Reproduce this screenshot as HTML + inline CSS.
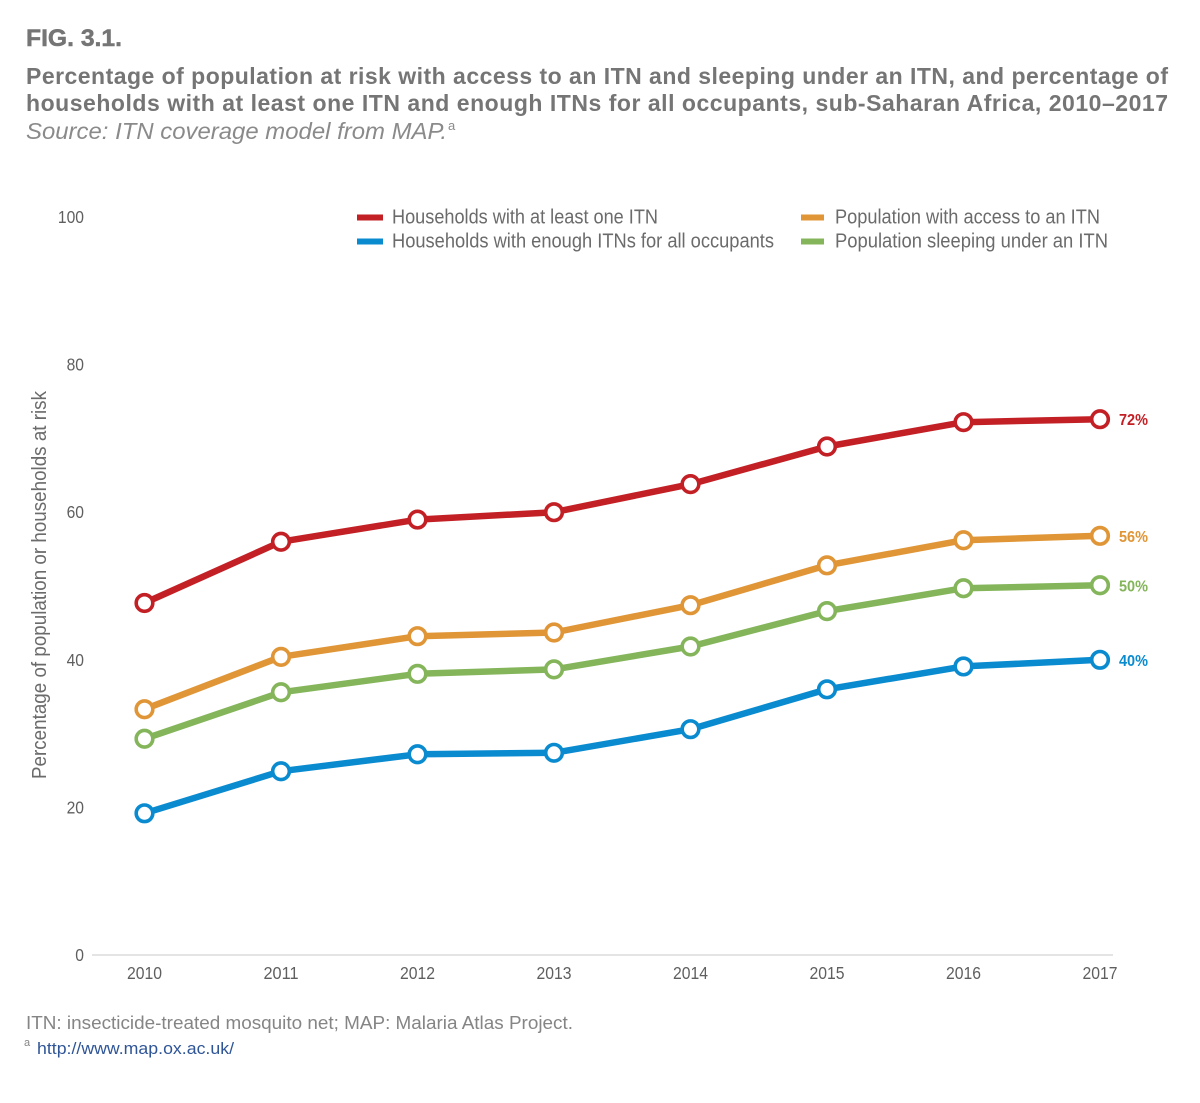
<!DOCTYPE html>
<html lang="en">
<head>
<meta charset="utf-8">
<title>Fig. 3.1 ITN coverage</title>
<style>
html,body{margin:0;padding:0;background:#fff;}
body{width:1200px;height:1103px;overflow:hidden;}
svg{display:block;}
text{font-family:"Liberation Sans",sans-serif;}
.tick{font-size:17.5px;fill:#5f5f5f;}
.leg{font-size:20px;fill:#6b6b6b;}
</style>
</head>
<body>
<svg id="chart" width="1200" height="1103" viewBox="0 0 1200 1103" xmlns="http://www.w3.org/2000/svg">
  <text x="26" y="46" font-size="24" font-weight="700" fill="#757575" stroke="#757575" stroke-width="0.5" textLength="96" lengthAdjust="spacingAndGlyphs">FIG. 3.1.</text>
  <text x="26" y="84" font-size="23" font-weight="700" fill="#757575" textLength="1142" lengthAdjust="spacing">Percentage of population at risk with access to an ITN and sleeping under an ITN, and percentage of</text>
  <text x="26" y="111" font-size="23" font-weight="700" fill="#757575" textLength="1142" lengthAdjust="spacing">households with at least one ITN and enough ITNs for all occupants, sub-Saharan Africa, 2010–2017</text>
  <text x="26" y="139" font-size="23" font-style="italic" fill="#8a8a8a" textLength="421" lengthAdjust="spacingAndGlyphs">Source: ITN coverage model from MAP.</text>
  <text x="448" y="130" font-size="13" fill="#8a8a8a">a</text>

  <g>
    <rect x="357" y="214.5" width="26" height="6" fill="#c32026"/>
    <text class="leg" x="392" y="223.5" textLength="266" lengthAdjust="spacingAndGlyphs">Households with at least one ITN</text>
    <rect x="357" y="238.5" width="26" height="6" fill="#0a8bd0"/>
    <text class="leg" x="392" y="247.5" textLength="382" lengthAdjust="spacingAndGlyphs">Households with enough ITNs for all occupants</text>
    <rect x="801" y="214.5" width="23" height="6" fill="#e09637"/>
    <text class="leg" x="835" y="223.5" textLength="265" lengthAdjust="spacingAndGlyphs">Population with access to an ITN</text>
    <rect x="801" y="238.5" width="23" height="6" fill="#84b55a"/>
    <text class="leg" x="835" y="247.5" textLength="273" lengthAdjust="spacingAndGlyphs">Population sleeping under an ITN</text>
  </g>

  <text transform="translate(46,585) rotate(-90)" text-anchor="middle" font-size="20" fill="#6b6b6b" textLength="388" lengthAdjust="spacingAndGlyphs">Percentage of population or households at risk</text>

  <g id="axes"></g>
  <g id="series"></g>

  <text x="26" y="1029" font-size="18" fill="#858585" textLength="547" lengthAdjust="spacingAndGlyphs">ITN: insecticide-treated mosquito net; MAP: Malaria Atlas Project.</text>
  <text x="24" y="1046" font-size="11" fill="#858585">a</text>
  <text x="37" y="1054" font-size="17" fill="#2f5597" textLength="197" lengthAdjust="spacingAndGlyphs">http://www.map.ox.ac.uk/</text>
</svg>
<script>
const years = [2010, 2011, 2012, 2013, 2014, 2015, 2016, 2017];
const yTicks = [0, 20, 40, 60, 80, 100];
const householdsOneItn = [47.7, 56.0, 59.0, 60.0, 63.8, 68.9, 72.2, 72.6];
const populationAccess = [33.3, 40.4, 43.2, 43.7, 47.4, 52.8, 56.2, 56.8];
const populationSleeping = [29.3, 35.6, 38.1, 38.7, 41.8, 46.6, 49.7, 50.1];
const householdsEnough = [19.2, 24.9, 27.2, 27.4, 30.6, 36.0, 39.1, 40.0];
const endLabels = ['72%', '56%', '50%', '40%'];

const NS = 'http://www.w3.org/2000/svg';
function xScale(i) { return 144.5 + i * (1100 - 144.5) / (years.length - 1); }
function yScale(v) { return 955 - v * 7.38; }
function make(tag, attrs, parent) {
  const el = document.createElementNS(NS, tag);
  for (const k in attrs) el.setAttribute(k, attrs[k]);
  parent.appendChild(el);
  return el;
}

const axes = document.getElementById('axes');
const baseline = make('line', { x1: 92, x2: 1113, y1: yScale(0), y2: yScale(0), stroke: '#dcdcdc', 'stroke-width': 1.5 }, axes);



yTicks.forEach(function (t) {
  const label = String(t);
  const el = make('text', { x: 84, y: yScale(t) + 6, 'text-anchor': 'end', class: 'tick', textLength: label.length * 8.7, lengthAdjust: 'spacingAndGlyphs' }, axes);
  el.textContent = label;
  
  
});
years.forEach(function (yr, i) {
  const el = make('text', { x: xScale(i), y: 979, 'text-anchor': 'middle', class: 'tick', textLength: 35, lengthAdjust: 'spacingAndGlyphs' }, axes);
  el.textContent = yr;
  
  
});

const seriesList = [
  { key: 'households-one-itn', values: householdsOneItn, color: '#c32026', label: endLabels[0] },
  { key: 'population-access', values: populationAccess, color: '#e09637', label: endLabels[1] },
  { key: 'population-sleeping', values: populationSleeping, color: '#84b55a', label: endLabels[2] },
  { key: 'households-enough-itns', values: householdsEnough, color: '#0a8bd0', label: endLabels[3] }
];
const seriesRoot = document.getElementById('series');
seriesList.forEach(function (s) {
  const g = make('g', {}, seriesRoot);
  
  
  const pts = s.values.map(function (v, i) { return xScale(i).toFixed(1) + ',' + yScale(v).toFixed(1); }).join(' ');
  const line = make('polyline', { points: pts, fill: 'none', stroke: s.color, 'stroke-width': 6.5, 'stroke-linejoin': 'round' }, g);
  
  
  s.values.forEach(function (v, i) {
    const c = make('circle', { cx: xScale(i), cy: yScale(v), r: 8.3, fill: '#fff', stroke: s.color, 'stroke-width': 3.6 }, g);
    
    
  });
  const last = s.values[s.values.length - 1];
  const t = make('text', { x: 1119, y: yScale(last) + 6, 'font-size': 16, 'font-weight': 700, fill: s.color, textLength: 29, lengthAdjust: 'spacingAndGlyphs' }, g);
  t.textContent = s.label;
  
  
});
</script>
</body>
</html>
